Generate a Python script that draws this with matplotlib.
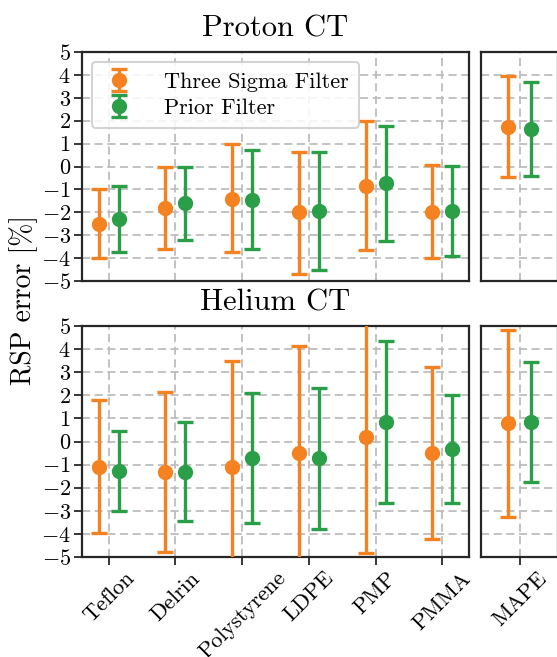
import matplotlib
matplotlib.use("Agg")
import matplotlib.pyplot as plt
import numpy as np

plt.rcParams["font.family"] = "serif"
plt.rcParams["font.serif"] = ["cmr10", "DejaVu Serif"]
plt.rcParams["mathtext.fontset"] = "cm"
plt.rcParams["axes.formatter.use_mathtext"] = True
plt.rcParams["axes.unicode_minus"] = True

materials = ["Teflon", "Delrin", "Polystyrene", "LDPE", "PMP", "PMMA"]
methods = ["Three Sigma Filter", "Prior Filter"]
colors = ["#f58220", "#2a9f48"]

# RSP error [%]: centre, lower and upper end of each bar
# proton CT
p_sigma_mid = [-2.5, -1.8, -1.4, -2.0, -0.84, -1.97]
p_sigma_lo = [-4.0, -3.6, -3.75, -4.7, -3.65, -4.0]
p_sigma_hi = [-1.0, 0.0, 1.0, 0.65, 1.99, 0.07]
p_prior_mid = [-2.3, -1.6, -1.45, -1.93, -0.73, -1.95]
p_prior_lo = [-3.75, -3.2, -3.6, -4.52, -3.25, -3.9]
p_prior_hi = [-0.85, 0.0, 0.7, 0.65, 1.77, 0.03]
p_mape_mid = [1.74, 1.64]
p_mape_lo = [-0.45, -0.4]
p_mape_hi = [3.95, 3.7]

# helium CT
h_sigma_mid = [-1.12, -1.33, -1.09, -0.48, 0.18, -0.51]
h_sigma_lo = [-3.97, -4.77, -5.7, -5.4, -4.84, -4.23]
h_sigma_hi = [1.8, 2.13, 3.5, 4.13, 5.3, 3.21]
h_prior_mid = [-1.28, -1.3, -0.73, -0.73, 0.83, -0.34]
h_prior_lo = [-3.02, -3.43, -3.51, -3.79, -2.68, -2.68]
h_prior_hi = [0.47, 0.86, 2.09, 2.3, 4.36, 2.01]
h_mape_mid = [0.79, 0.86]
h_mape_lo = [-3.28, -1.77]
h_mape_hi = [4.83, 3.45]

yticks = np.arange(-5, 6, 1)
shift = 0.15


def err(mid, lo, hi):
    mid, lo, hi = np.array(mid), np.array(lo), np.array(hi)
    return mid, [mid - lo, hi - mid]


def bars(ax, x, data, labels=True):
    for k, (mid, lo, hi) in enumerate(data):
        y, e = err(mid, lo, hi)
        ax.errorbar(x + (k - 0.5) * 2 * shift, y, yerr=e, fmt="o", color=colors[k],
                    ms=10, elinewidth=2.4, capsize=6, capthick=2.4,
                    label=methods[k] if labels else None, zorder=3)


def style(ax):
    ax.set_ylim(-5, 5)
    ax.set_yticks(yticks)
    ax.grid(True, ls=(0, (4.5, 2.5)), color="0.74", lw=1.3)
    ax.set_axisbelow(True)
    for s in ax.spines.values():
        s.set_linewidth(1.6)
        s.set_color("0.15")
    ax.tick_params(labelsize=16, length=6, width=1.3, color="0.15", pad=2)


fig = plt.figure(figsize=(5.57, 6.57), dpi=100)
W, H = 557, 657


def box(l, t, r, b):
    return [l / W, 1 - b / H, (r - l) / W, (b - t) / H]


ax_p = fig.add_axes(box(82, 52, 469, 281))
ax_pm = fig.add_axes(box(481, 52, 558, 281))
ax_h = fig.add_axes(box(82, 326, 469, 557))
ax_hm = fig.add_axes(box(481, 326, 558, 557))

x = np.arange(len(materials))
bars(ax_p, x, [(p_sigma_mid, p_sigma_lo, p_sigma_hi), (p_prior_mid, p_prior_lo, p_prior_hi)])
bars(ax_h, x, [(h_sigma_mid, h_sigma_lo, h_sigma_hi), (h_prior_mid, h_prior_lo, h_prior_hi)])
bars(ax_pm, np.array([0.0]), [([p_mape_mid[0]], [p_mape_lo[0]], [p_mape_hi[0]]),
                              ([p_mape_mid[1]], [p_mape_lo[1]], [p_mape_hi[1]])], labels=False)
bars(ax_hm, np.array([0.0]), [([h_mape_mid[0]], [h_mape_lo[0]], [h_mape_hi[0]]),
                              ([h_mape_mid[1]], [h_mape_lo[1]], [h_mape_hi[1]])], labels=False)

for ax in (ax_p, ax_h):
    style(ax)
    ax.set_xlim(-0.4, len(materials) - 0.6)
    ax.set_xticks(x)
for ax in (ax_pm, ax_hm):
    style(ax)
    ax.set_xlim(-0.5, 0.5)
    ax.set_xticks([0])
    ax.tick_params(axis="y", left=False, labelleft=False)

ax_p.tick_params(axis="x", bottom=False, labelbottom=False)
ax_pm.tick_params(axis="x", bottom=False, labelbottom=False)
ax_h.set_xticklabels(materials, rotation=45, fontsize=16)
ax_hm.set_xticklabels(["MAPE"], rotation=45, fontsize=16)

ax_p.set_title("Proton CT", fontsize=22, pad=11)
ax_h.set_title("Helium CT", fontsize=22, pad=11)
fig.text(0.042, 0.543, "RSP error [%]", rotation=90, va="center", ha="center", fontsize=20)

leg = ax_p.legend(loc="upper left", fontsize=16, frameon=True, fancybox=True,
                  framealpha=0.85, edgecolor="0.8", borderaxespad=0.45,
                  handletextpad=1.3, handlelength=1.5, labelspacing=0.3,
                  borderpad=0.45)
leg.get_frame().set_linewidth(1.5)

fig.savefig("out.png", dpi=100)
